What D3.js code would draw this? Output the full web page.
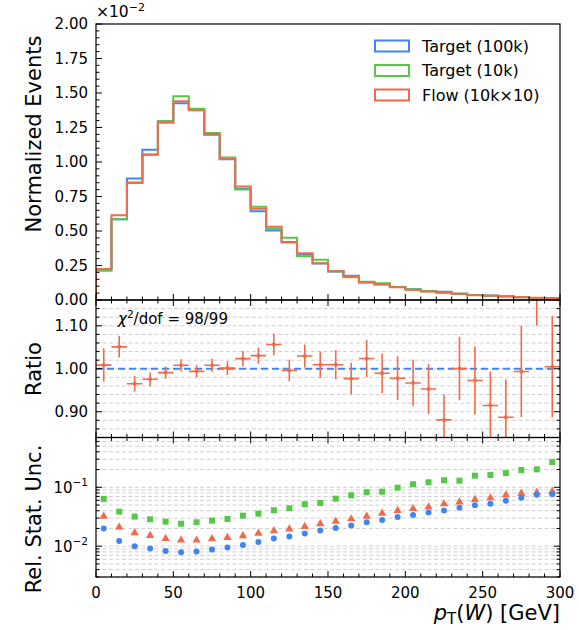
<!DOCTYPE html>
<html>
<head>
<meta charset="utf-8">
<script src="https://cdn.jsdelivr.net/npm/d3@7"></script>
<style>
  html, body { margin: 0; padding: 0; background: #fff; }
  svg { display: block; font-family: "DejaVu Sans", sans-serif; }
</style>
</head>
<body>
<svg id="chart" width="579" height="630"></svg>
<script>
// Bin edges (GeV): 30 bins of 10 GeV from 0 to 300
const binEdges = d3.range(0, 301, 10);

// Normalized events per bin (in units of 1e-2)
const target100k = [0.222, 0.585, 0.880, 1.088, 1.296, 1.426, 1.383, 1.197, 1.020, 0.806,
                    0.644, 0.504, 0.420, 0.330, 0.265, 0.207, 0.176, 0.126, 0.114, 0.095,
                    0.077, 0.065, 0.059, 0.045, 0.036, 0.033, 0.028, 0.020, 0.013, 0.014];
const target10k  = [0.212, 0.586, 0.847, 1.052, 1.296, 1.477, 1.385, 1.210, 1.033, 0.800,
                    0.675, 0.516, 0.451, 0.317, 0.291, 0.209, 0.165, 0.133, 0.122, 0.094,
                    0.076, 0.064, 0.055, 0.046, 0.036, 0.031, 0.027, 0.021, 0.014, 0.013];
const flow10kx10 = [0.224, 0.615, 0.852, 1.055, 1.284, 1.441, 1.375, 1.205, 1.021, 0.822,
                    0.661, 0.530, 0.417, 0.339, 0.267, 0.209, 0.172, 0.129, 0.112, 0.093,
                    0.074, 0.062, 0.052, 0.045, 0.035, 0.030, 0.025, 0.020, 0.016, 0.014];

// Ratio Flow / Target(100k) and its uncertainty
const ratio    = [1.0085, 1.051, 0.965, 0.9755, 0.991, 1.008, 0.994, 1.008, 1.0015, 1.0235,
                  1.0305, 1.0565, 0.996, 1.0297, 1.0094, 1.0094, 0.977, 1.024, 0.9897, 0.978,
                  0.967, 0.953, 0.881, 1.0007, 0.9725, 0.9144, 0.887, 0.9937, 1.23, 1.0047];
const ratioErr = [0.039, 0.025, 0.018, 0.016, 0.0145, 0.014, 0.014, 0.015, 0.016, 0.018,
                  0.019, 0.025, 0.025, 0.027, 0.031, 0.034, 0.037, 0.043, 0.046, 0.051,
                  0.054, 0.058, 0.059, 0.074, 0.079, 0.079, 0.088, 0.106, 0.130, 0.118];

// Relative statistical uncertainty per bin
const uncTarget100k = [0.0199, 0.0123, 0.0100, 0.00912, 0.00832, 0.00791, 0.00811, 0.00877, 0.00948, 0.0105,
                       0.0118, 0.0135, 0.0146, 0.0164, 0.0184, 0.0204, 0.0224, 0.0255, 0.0279, 0.0314,
                       0.0340, 0.0372, 0.0402, 0.0451, 0.0495, 0.0527, 0.0593, 0.0667, 0.0749, 0.0760];
const uncTarget10k  = [0.0634, 0.0386, 0.0318, 0.0286, 0.0261, 0.0241, 0.0255, 0.0272, 0.0290, 0.0330,
                       0.0357, 0.0407, 0.0441, 0.0515, 0.0542, 0.0641, 0.0731, 0.0823, 0.0843, 0.0985,
                       0.1125, 0.1216, 0.1314, 0.1294, 0.1574, 0.1614, 0.1746, 0.1963, 0.2018, 0.2685];
const uncFlow       = [0.0322, 0.0210, 0.0168, 0.0151, 0.0135, 0.01265, 0.01265, 0.0133, 0.0140, 0.0150,
                       0.0166, 0.0182, 0.0196, 0.0215, 0.0239, 0.0265, 0.0290, 0.0322, 0.0362, 0.0402,
                       0.0434, 0.0463, 0.0521, 0.0563, 0.0617, 0.0659, 0.0740, 0.0791, 0.0811, 0.0856];

// Tick labels
const topTicks = [0, 0.25, 0.5, 0.75, 1.0, 1.25, 1.5, 1.75, 2.0];
const ratioTicks = [0.9, 1.0, 1.1];
const xTicks = [0, 50, 100, 150, 200, 250, 300];
const legendLabels = ["Target (100k)", "Target (10k)", "Flow (10k\u00d710)"];

const C_BLUE = "#4186ef", C_GREEN = "#55c847", C_ORANGE = "#f06b4b";

const svg = d3.select("#chart");
const X0 = 96, X1 = 560;
const P_TOP = [24, 300], P_RAT = [300, 437.5], P_UNC = [437.5, 577];

const x = d3.scaleLinear().domain([0, 300]).range([X0, X1]);
const yTop = d3.scaleLinear().domain([0, 2]).range([P_TOP[1], P_TOP[0]]);
const yRat = d3.scaleLinear().domain([0.84, 1.16]).range([P_RAT[1], P_RAT[0]]);
const yUnc = d3.scaleLog().domain([0.003, 0.7]).range([P_UNC[1], P_UNC[0]]);

const defs = svg.append("defs");
function clip(id, p) {
  defs.append("clipPath").attr("id", id).append("rect")
    .attr("x", X0).attr("y", p[0]).attr("width", X1 - X0).attr("height", p[1] - p[0]);
}
clip("clipTop", P_TOP); clip("clipRat", P_RAT); clip("clipUnc", P_UNC);

const centers = binEdges.slice(0, -1).map((e, i) => (e + binEdges[i + 1]) / 2);

// ---------- grids ----------
const minorRat = d3.range(0.86, 1.1401, 0.02);
svg.append("g").selectAll("line").data(minorRat).join("line")
  .attr("x1", X0).attr("x2", X1)
  .attr("y1", d => yRat(d)).attr("y2", d => yRat(d))
  .attr("stroke", "#cfcfcf").attr("stroke-width", 1).attr("stroke-dasharray", "4,2.5");

const logMinor = [];
[0.001, 0.01, 0.1].forEach(dec => { for (let k = 1; k <= 9; k++) logMinor.push(dec * k); });
const logGrid = logMinor.filter(v => v > 0.003 - 1e-9 && v < 0.7 - 1e-9);
svg.append("g").selectAll("line").data(logGrid).join("line")
  .attr("x1", X0).attr("x2", X1)
  .attr("y1", d => yUnc(d)).attr("y2", d => yUnc(d))
  .attr("stroke", "#cfcfcf").attr("stroke-width", 1).attr("stroke-dasharray", "4,2.5");

// ---------- top panel: step histograms ----------
function stepPath(vals) {
  const pts = [[binEdges[0], 0]];
  vals.forEach((v, i) => { pts.push([binEdges[i], v]); pts.push([binEdges[i + 1], v]); });
  pts.push([binEdges[binEdges.length - 1], 0]);
  return d3.line().x(d => x(d[0])).y(d => yTop(d[1]))(pts);
}
const gTop = svg.append("g").attr("clip-path", "url(#clipTop)");
[[target100k, C_BLUE], [target10k, C_GREEN], [flow10kx10, C_ORANGE]].forEach(([vals, col]) => {
  gTop.append("path").attr("d", stepPath(vals))
    .attr("fill", "none").attr("stroke", col).attr("stroke-width", 2)
    .attr("stroke-linejoin", "miter");
});

// legend
const lg = svg.append("g");
legendLabels.forEach((lab, i) => {
  const cy = 46 + i * 24.5;
  const col = [C_BLUE, C_GREEN, C_ORANGE][i];
  lg.append("rect").attr("x", 375).attr("y", cy - 5.5).attr("width", 34).attr("height", 11)
    .attr("fill", "none").attr("stroke", col).attr("stroke-width", 2);
  lg.append("text").attr("x", 422).attr("y", cy).attr("dy", "0.36em")
    .attr("font-size", 16).attr("fill", "#000").text(lab);
});

// offset text
const off = svg.append("text").attr("x", 96).attr("y", 17).attr("font-size", 15.5).attr("fill", "#000");
off.append("tspan").text("\u00d710");
off.append("tspan").attr("font-size", 11).attr("dy", -6).text("\u22122");

// ---------- ratio panel ----------
const gRat = svg.append("g").attr("clip-path", "url(#clipRat)");
gRat.append("line").attr("x1", X0).attr("x2", X1)
  .attr("y1", yRat(1)).attr("y2", yRat(1))
  .attr("stroke", C_BLUE).attr("stroke-width", 2).attr("stroke-dasharray", "7,4");
ratio.forEach((r, i) => {
  const g = gRat.append("g");
  g.append("line").attr("x1", x(binEdges[i])).attr("x2", x(binEdges[i + 1]))
    .attr("y1", yRat(r)).attr("y2", yRat(r)).attr("stroke", C_ORANGE).attr("stroke-width", 1.6);
  g.append("line").attr("x1", x(centers[i])).attr("x2", x(centers[i]))
    .attr("y1", yRat(r - ratioErr[i])).attr("y2", yRat(r + ratioErr[i]))
    .attr("stroke", C_ORANGE).attr("stroke-width", 1.6);
  g.append("circle").attr("cx", x(centers[i])).attr("cy", yRat(r)).attr("r", 2)
    .attr("fill", C_ORANGE);
});
const chi = svg.append("text").attr("x", 118).attr("y", 324).attr("font-size", 15).attr("fill", "#000");
chi.append("tspan").attr("font-style", "italic").text("\u03c7");
chi.append("tspan").attr("font-size", 10.5).attr("dy", -6).text("2");
chi.append("tspan").attr("dy", 6).text("/dof = 98/99");

// ---------- uncertainty panel ----------
const gUnc = svg.append("g").attr("clip-path", "url(#clipUnc)");
gUnc.selectAll("rect.sq").data(uncTarget10k).join("rect").attr("class", "sq")
  .attr("x", (d, i) => x(centers[i]) - 3).attr("y", d => yUnc(d) - 3)
  .attr("width", 6).attr("height", 6).attr("fill", C_GREEN);
gUnc.selectAll("path.tri").data(uncFlow).join("path").attr("class", "tri")
  .attr("transform", (d, i) => `translate(${x(centers[i])},${yUnc(d)})`)
  .attr("d", d3.symbol(d3.symbolTriangle, 30)()).attr("fill", C_ORANGE);
gUnc.selectAll("circle.dot").data(uncTarget100k).join("circle").attr("class", "dot")
  .attr("cx", (d, i) => x(centers[i])).attr("cy", d => yUnc(d)).attr("r", 3)
  .attr("fill", C_BLUE);

// ---------- axes / ticks ----------
const TICK_MAJ = 6, TICK_MIN = 3.5;
function hTicks(vals, yPos, dir, len) {
  svg.append("g").selectAll("line").data(vals).join("line")
    .attr("x1", d => x(d)).attr("x2", d => x(d))
    .attr("y1", yPos).attr("y2", yPos + dir * len)
    .attr("stroke", "#000").attr("stroke-width", 1);
}
function vTicks(scale, vals, xPos, dir, len) {
  svg.append("g").selectAll("line").data(vals).join("line")
    .attr("y1", d => scale(d)).attr("y2", d => scale(d))
    .attr("x1", xPos).attr("x2", xPos + dir * len)
    .attr("stroke", "#000").attr("stroke-width", 1);
}
const xMinor = d3.range(0, 301, 10).filter(v => v % 50 !== 0);
// top panel: left and bottom ticks
hTicks(xTicks, P_TOP[1], -1, TICK_MAJ); hTicks(xMinor, P_TOP[1], -1, TICK_MIN);
vTicks(yTop, topTicks, X0, 1, TICK_MAJ);
vTicks(yTop, d3.range(0, 2.001, 0.05).filter(v => Math.abs(v / 0.25 - Math.round(v / 0.25)) > 1e-6), X0, 1, TICK_MIN);
// ratio panel: all sides
[[P_RAT[0], 1], [P_RAT[1], -1]].forEach(([yy, dir]) => {
  hTicks(xTicks, yy, dir, TICK_MAJ); hTicks(xMinor, yy, dir, TICK_MIN);
});
const ratMinor = d3.range(0.84, 1.1601, 0.02).filter(v => Math.abs(v * 10 - Math.round(v * 10)) > 1e-6);
[[X0, 1], [X1, -1]].forEach(([xx, dir]) => {
  vTicks(yRat, ratioTicks, xx, dir, TICK_MAJ); vTicks(yRat, ratMinor, xx, dir, TICK_MIN);
});
// uncertainty panel: all sides
[[P_UNC[0], 1], [P_UNC[1], -1]].forEach(([yy, dir]) => {
  hTicks(xTicks, yy, dir, TICK_MAJ); hTicks(xMinor, yy, dir, TICK_MIN);
});
const logMajor = [0.01, 0.1];
const logMinorTicks = logGrid.filter(v => !logMajor.some(m => Math.abs(m - v) < 1e-9));
[[X0, 1], [X1, -1]].forEach(([xx, dir]) => {
  vTicks(yUnc, logMajor, xx, dir, TICK_MAJ); vTicks(yUnc, logMinorTicks, xx, dir, TICK_MIN);
});

// frames
[P_TOP, P_RAT, P_UNC].forEach(p => {
  svg.append("rect").attr("x", X0).attr("y", p[0]).attr("width", X1 - X0).attr("height", p[1] - p[0])
    .attr("fill", "none").attr("stroke", "#000").attr("stroke-width", 1.2);
});

// tick labels
const LBL = 15;
svg.append("g").selectAll("text").data(topTicks).join("text")
  .attr("x", 88).attr("y", d => yTop(d)).attr("dy", "0.36em").attr("text-anchor", "end")
  .attr("font-size", LBL).text(d => d.toFixed(2));
svg.append("g").selectAll("text").data(ratioTicks).join("text")
  .attr("x", 88).attr("y", d => yRat(d)).attr("dy", "0.36em").attr("text-anchor", "end")
  .attr("font-size", LBL).text(d => d.toFixed(2));
const logLbl = svg.append("g").selectAll("text").data(logMajor).join("text")
  .attr("x", 88).attr("y", d => yUnc(d) + 6).attr("text-anchor", "end").attr("font-size", LBL);
logLbl.append("tspan").text("10");
logLbl.append("tspan").attr("font-size", 10.5).attr("dy", -7).text(d => "\u2212" + Math.round(-Math.log10(d)));
svg.append("g").selectAll("text").data(xTicks).join("text")
  .attr("x", d => x(d)).attr("y", 598).attr("text-anchor", "middle")
  .attr("font-size", LBL).text(d => d);

// axis titles
function yTitle(txt, yy, anchor) {
  svg.append("text").attr("transform", `translate(41,${yy}) rotate(-90)`)
    .attr("text-anchor", anchor).attr("font-size", 21).attr("fill", "#000").text(txt);
}
yTitle("Normalized Events", 134, "middle");
yTitle("Ratio", 369, "middle");
yTitle("Rel. Stat. Unc.", 519, "middle");

const xl = svg.append("text").attr("x", 560).attr("y", 620).attr("text-anchor", "end")
  .attr("font-size", 21).attr("fill", "#000");
xl.append("tspan").attr("font-style", "italic").text("p");
xl.append("tspan").attr("font-size", 15).attr("dy", 4).text("T");
xl.append("tspan").attr("dy", -4).text("(");
xl.append("tspan").attr("font-style", "italic").text("W");
xl.append("tspan").text(") [GeV]");
</script>
</body>
</html>
